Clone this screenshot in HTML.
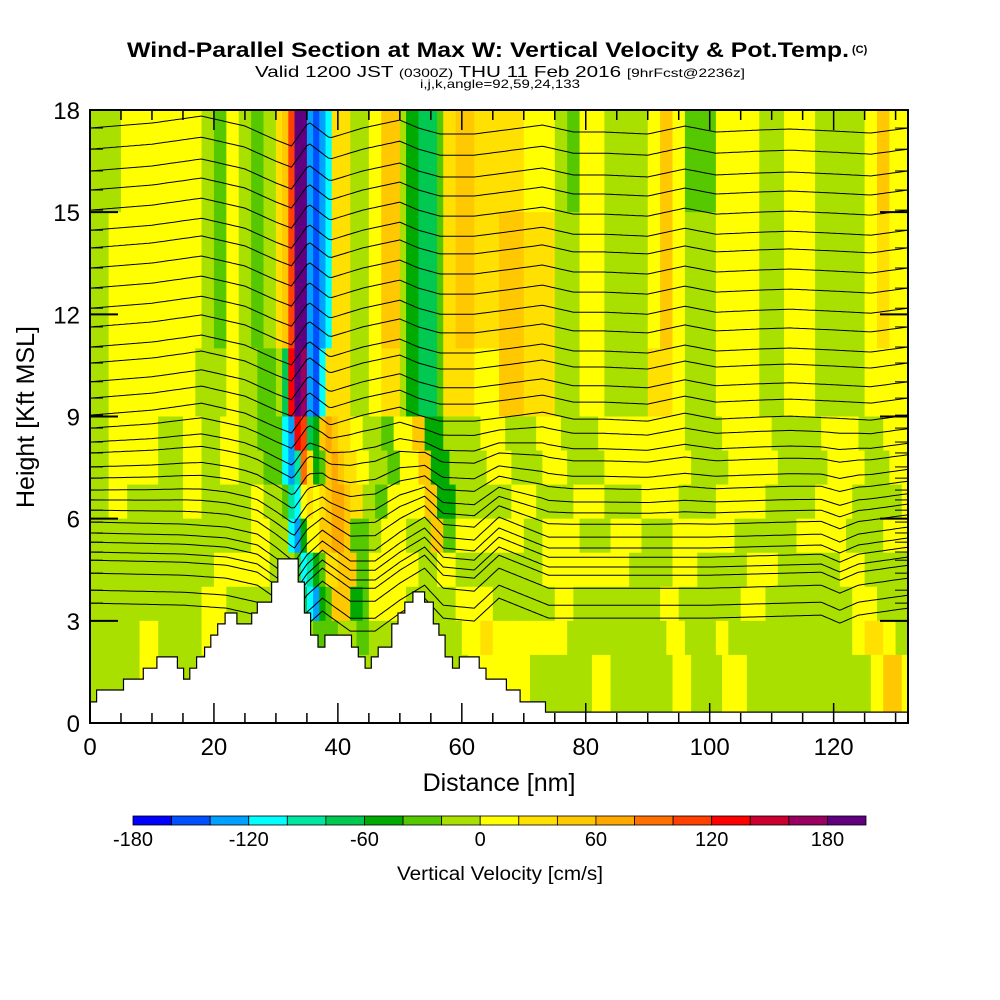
<!DOCTYPE html>
<html><head><meta charset="utf-8"><title>Wind-Parallel Section</title>
<style>html,body{margin:0;padding:0;background:#fff}svg{display:block}text{font-family:"Liberation Sans",sans-serif}</style>
</head><body>
<svg id="chart" width="1000" height="1000" viewBox="0 0 1000 1000" xmlns="http://www.w3.org/2000/svg">
<defs><clipPath id="plotclip"><rect x="90" y="110" width="818" height="613"/></clipPath></defs>
<rect width="1000" height="1000" fill="#fff"/>
<text x="127" y="57" font-size="21" font-weight="bold" textLength="722" lengthAdjust="spacingAndGlyphs">Wind-Parallel Section at Max W: Vertical Velocity &amp; Pot.Temp.</text>
<text x="852" y="53" font-size="11" font-weight="bold">(C)</text>
<text x="255" y="77" font-size="16" textLength="490" lengthAdjust="spacingAndGlyphs">Valid 1200 JST <tspan font-size="12">(0300Z)</tspan> THU 11 Feb 2016 <tspan font-size="12">[9hrFcst@2236z]</tspan></text>
<text x="420" y="88" font-size="12" textLength="160" lengthAdjust="spacingAndGlyphs">i,j,k,angle=92,59,24,133</text>
<g id="field" clip-path="url(#plotclip)"></g>
<g id="isentropes" clip-path="url(#plotclip)"></g>
<g id="terrain"></g>
<rect x="90" y="110" width="818" height="613" fill="none" stroke="#000" stroke-width="2"/>
<g id="ticks"></g>
<g id="labels"></g>
<text x="499" y="791" font-size="25" text-anchor="middle">Distance [nm]</text>
<text transform="translate(34,417) rotate(-90)" font-size="25" text-anchor="middle">Height [Kft MSL]</text>
<g id="colorbar"></g>
<text x="500" y="880" font-size="19" text-anchor="middle" textLength="206" lengthAdjust="spacingAndGlyphs">Vertical Velocity [cm/s]</text>
</svg>
<script>
const binColors = ["#0000ff","#0050ff","#00a0ff","#00ffff","#00e6a0","#00c850","#00aa00","#55c800","#aae000","#ffff00","#ffe000","#ffc800","#ffa800","#ff7000","#ff4000","#ff0000","#cc0030","#990060","#600080"];
const binLabels = ["-180","-120","-60","0","60","120","180"];
const binLabelValues = [-180,-120,-60,0,60,120,180];
const rowsRLE = [
"i5 j13 i2 h2 j2 i2 h2 i2 k1 l1 o1 s2 c1 b1 c1 d1 k3 i3 j2 l3 i1 g2 f3 h1 k2 l3 k4 k4 j5 i2 h2 j4 i7 j2 l2 j2 h5 j7 i4 j5 i8 j2 l2 j3",
"i5 j13 i2 h2 j2 i2 h2 i2 k1 l1 o1 s2 c1 b1 c1 d1 k3 i3 j2 l3 i1 g2 f3 h1 k2 l3 k4 k4 j5 i2 h2 j4 i7 j2 l2 j2 h5 j7 i4 j5 i8 j2 l2 j3",
"i5 j13 i2 h2 j2 i2 h2 i2 k1 l1 o1 s2 c1 b1 c1 d1 k3 i3 j2 l3 i1 g2 f3 h1 k2 l3 k4 k4 j5 i2 h2 j4 i7 j2 l2 j2 h5 j7 i4 j5 i8 j2 l2 j3",
"i3 j15 i2 h2 j2 i2 h2 i2 k1 l1 o1 s2 c1 b1 c1 d1 k3 i3 j2 l3 i1 g2 f3 h1 k2 l3 k4 l4 k5 i2 i2 j4 i7 j2 l2 j2 i5 j7 i4 j5 i8 j2 k2 j3",
"i3 j15 i2 h2 j2 i2 h2 i2 k1 l1 o1 s2 c1 b1 c1 d1 k3 i3 j2 l3 i1 g2 f3 h1 k2 l3 k4 l4 k5 i2 i2 j4 i7 j2 l2 j2 i5 j7 i4 j5 i8 j2 k2 j3",
"i3 j15 i2 h2 j2 i2 h2 i2 k1 l1 o1 s2 c1 b1 c1 d1 k3 i3 j2 l3 i1 g2 f3 h1 k2 l3 k4 l4 k5 i2 i2 j4 i7 j2 l2 j2 i5 j7 i4 j5 i8 j2 k2 j3",
"i3 j15 i2 h2 j2 i2 h2 i2 k1 l1 o1 s2 c1 b1 c1 d1 k3 i3 j2 l3 i1 g2 f3 h1 k2 l3 k4 l4 k5 i2 i2 j4 i7 j2 l2 j2 i5 j7 i4 j5 i8 j2 k2 j3",
"i3 j14 i5 j2 i3 h3 i1 f1 p1 s1 r1 c1 b1 d1 k4 i3 j2 k3 i1 g2 f3 h1 k5 j4 l4 k5 i4 j4 i7 k4 j2 i5 j7 i4 j5 i8 j4 j3",
"i3 j14 i5 j2 i3 h3 i1 f1 p1 s1 r1 c1 b1 d1 k4 i3 j2 k3 i1 g2 f3 h1 k5 j4 l4 k5 i4 j4 i7 k4 j2 i5 j7 i4 j5 i8 j4 j3",
"i3 j8 i4 j3 i3 j3 i3 h3 h1 d1 c1 p1 o1 f1 g1 l1 m1 l1 k2 j2 i3 h2 j3 l2 g3 i6 j4 i5 j4 i6 j6 j8 i6 j8 i8 j6 i4 j4",
"i3 j8 i4 j3 i3 j3 i4 h2 h1 d1 c1 e1 n1 k1 g1 h1 l1 m1 l1 k2 j2 i3 h2 j3 l2 g3 i6 j4 i5 j4 i6 j6 j8 i6 j8 i8 j6 i4 j3",
"i3 j3 i9 j3 i8 j2 i3 h1 e1 d1 j1 k1 j1 k1 l1 m1 m1 l1 k2 i2 h2 j6 l2 g3 i9 j4 i6 j5 i6 j6 i6 j8 i8 j6 i8 j6 i3",
"i26 j3 i3 d1 c1 g1 j2 l2 m2 l1 h3 i2 j4 i4 l2 h2 j8 j3 i3 j6 i5 j5 i5 j10 i10 j8 i6 j10",
"i20 j9 i4 h1 d1 e1 g1 h1 k2 l3 h2 j8 i3 j3 i14 j14 i7 j4 i8 j5 i10 j4 i3",
"i18 j4 i8 j4 f1 d1 c1 g1 h1 l3 g2 h1 j6 i8 j6 i10 j3 i14 j3 i10 j4 i14 j4 i2",
"i8 j3 i7 j4 i14 h4 i3 h2 i8 g2 i5 j3 k2 j8 j4 i16 j3 i5 j2 i20 j2 k3 j2 i4",
"i8 j3 i50 j10 i10 j3 i10 j3 i5 j4 i20 j2 l3 j2 i4",
"i8 j3 i50 j10 i10 j3 i10 j3 i5 j4 i20 j2 l3 j2 i4"
];
const terrainX = [0,1.07,5.4,8.6,10.8,14.1,15.1,16.1,17.2,18.5,19.5,20.6,21.8,23.7,26.1,27.0,29.3,30.3,33.6,34.6,35.6,36.8,37.9,42.2,43.3,44.4,45.4,46.5,48.7,49.7,50.8,52.1,54.0,55.4,56.3,57.3,58.5,59.6,62.8,63.9,67.2,69.4,73.5];
const terrainH = [0.62,0.97,1.29,1.61,1.94,1.61,1.29,1.61,1.94,2.23,2.58,2.91,3.23,2.91,3.23,3.55,4.14,4.82,4.14,3.23,2.58,2.23,2.58,2.23,1.94,1.61,1.94,2.23,2.91,3.23,3.55,3.85,3.55,2.91,2.58,1.94,1.61,1.94,1.61,1.29,0.97,0.62,0.32];
const thetaLevels = [17.47,16.85,16.21,15.65,15.06,14.47,13.95,13.36,12.77,12.18,11.63,11.04,10.57,10.02,9.54,9.04,8.66,8.25,7.93,7.52,7.19,6.84,6.55,6.25,5.90,5.58,5.31,5.02,4.78,4.40,3.90,3.52];
const upperDistX = [0,10,18,25,30,32.5,35.3,38.7,44,50,53,56.5,62,67,73,78,83,90,96,101,108,113,120,126,132];
const upperDistY = [0,-5,-12,-2,12,18,-6,10,0,-8,0,6,6,2,-3,4,4,6,-2,4,2,1,3,5,0];
const lowerDistX = [0,15,22,27,30,33,35,37.5,42,46,50,54,57,62,66,70,74,85,100,118,121,124,132];
const lowerDistY = [0,2,5,12,25,40,22,8,28,28,10,-5,15,18,-5,5,15,15,15,12,20,12,5];
const xTickValues = [0,20,40,60,80,100,120];
const yTickValues = [0,3,6,9,12,15,18];

const SVGNS = "http://www.w3.org/2000/svg";
const xs = nm => 90 + nm * 818 / 132;
const ys = k => 723 - k * 613 / 18;
function mk(tag, attrs, parent) {
  const e = document.createElementNS(SVGNS, tag);
  for (const a in attrs) e.setAttribute(a, attrs[a]);
  parent.appendChild(e);
  return e;
}
function expand(rle) {
  const out = [];
  rle.trim().split(/\s+/).forEach(tok => {
    const c = tok.charCodeAt(0) - 97, n = parseInt(tok.slice(1), 10);
    for (let i = 0; i < n; i++) out.push(c);
  });
  while (out.length < 132) out.push(out[out.length - 1]);
  return out.slice(0, 132);
}
function interp(xa, ya, x) {
  if (x <= xa[0]) return ya[0];
  for (let i = 1; i < xa.length; i++) {
    if (x <= xa[i]) { const t = (x - xa[i-1]) / (xa[i] - xa[i-1]); return ya[i-1] + t * (ya[i] - ya[i-1]); }
  }
  return ya[ya.length - 1];
}

const field = document.getElementById('field');
rowsRLE.forEach((rle, r) => {
  const vals = expand(rle);
  const kTop = 18 - r, kBot = 17 - r;
  let start = 0;
  for (let c = 1; c <= 132; c++) {
    if (c === 132 || vals[c] !== vals[start]) {
      const cell = mk('rect', {x: xs(start).toFixed(2), y: ys(kTop).toFixed(2), width: (xs(c) - xs(start) + 0.6).toFixed(2), height: (ys(kBot) - ys(kTop) + 0.6).toFixed(2), fill: binColors[vals[start]]}, field);
      
      
      start = c;
    }
  }
});

const iso = document.getElementById('isentropes');
thetaLevels.forEach(k => {
  const w = Math.max(0, Math.min(1, (9 - k) / 3));
  const pts = [];
  for (let nm = 0; nm <= 132; nm += 0.5) {
    const d = (1 - w) * interp(upperDistX, upperDistY, nm) + w * interp(lowerDistX, lowerDistY, nm);
    pts.push(xs(nm).toFixed(1) + ',' + (ys(k) + d).toFixed(1));
  }
  const pl = mk('polyline', {points: pts.join(' '), fill: 'none', stroke: '#000', 'stroke-width': 1}, iso);
  
  
});

const terr = document.getElementById('terrain');
let d = 'M' + xs(0) + ',' + ys(0);
terrainX.forEach((x, i) => { d += ' L' + xs(x).toFixed(1) + ',' + ys(terrainH[i]).toFixed(1); if (i + 1 < terrainX.length) d += ' L' + xs(terrainX[i+1]).toFixed(1) + ',' + ys(terrainH[i]).toFixed(1); });
d += ' L' + xs(132) + ',' + ys(terrainH[terrainH.length-1]).toFixed(1) + ' L' + xs(132) + ',' + ys(0) + ' Z';
const tp = mk('path', {d: d, fill: '#fff', stroke: '#000', 'stroke-width': 1.2}, terr);



const ticks = document.getElementById('ticks');
for (let nm = 5; nm < 132; nm += 5) {
  const len = nm % 20 === 0 ? 20 : 10;
  const t1 = mk('line', {x1: xs(nm), x2: xs(nm), y1: 723, y2: 723 - len, stroke: '#000', 'stroke-width': 1.5}, ticks);
  
  
  const t2 = mk('line', {x1: xs(nm), x2: xs(nm), y1: 110, y2: 110 + len, stroke: '#000', 'stroke-width': 1.5}, ticks);
  
  
}
yTickValues.forEach(k => {
  const a = mk('line', {x1: 90, x2: 118, y1: ys(k), y2: ys(k), stroke: '#000', 'stroke-width': 2}, ticks);
  
  
  const b = mk('line', {x1: 880, x2: 908, y1: ys(k), y2: ys(k), stroke: '#000', 'stroke-width': 2}, ticks);
  
  
});
thetaLevels.forEach(k => {
  const a = mk('line', {x1: 90, x2: 103, y1: ys(k), y2: ys(k), stroke: '#000', 'stroke-width': 1}, ticks);
  
  
  const b = mk('line', {x1: 895, x2: 908, y1: ys(k), y2: ys(k), stroke: '#000', 'stroke-width': 1}, ticks);
  
  
});

const labels = document.getElementById('labels');
xTickValues.forEach(v => {
  const t = mk('text', {x: xs(v), y: 755, 'font-size': 24, 'text-anchor': 'middle'}, labels);
  t.textContent = String(v);
  
  
});
yTickValues.forEach(v => {
  const t = mk('text', {x: 80, y: ys(v) + 9, 'font-size': 24, 'text-anchor': 'end'}, labels);
  t.textContent = String(v);
  
  
});

const cb = document.getElementById('colorbar');
const cbX0 = 133, cbW = (866 - 133) / binColors.length;
binColors.forEach((col, i) => {
  const r = mk('rect', {x: cbX0 + i * cbW, y: 816, width: cbW, height: 9, fill: col, stroke: '#000', 'stroke-width': 0.8}, cb);
  
  
});
binLabels.forEach((lab, i) => {
  const x = cbX0 + (binLabelValues[i] + 180) / 20 * cbW;
  const t = mk('text', {x: x, y: 846, 'font-size': 20, 'text-anchor': 'middle'}, cb);
  t.textContent = lab;
  
  
});
</script>
</body></html>
